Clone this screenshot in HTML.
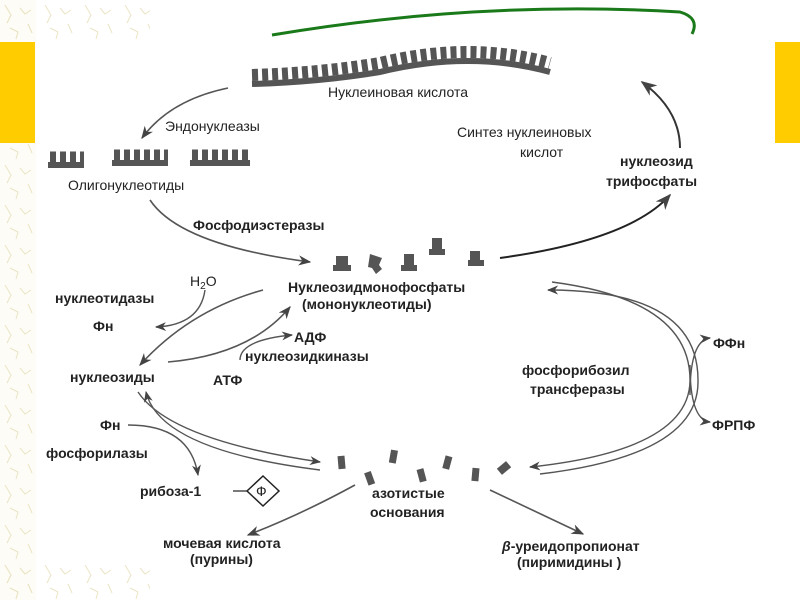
<!DOCTYPE html>
<html><head><meta charset="utf-8"><style>
body{margin:0;width:800px;height:600px;overflow:hidden;background:#fff}
text{font-family:"Liberation Sans",sans-serif;font-size:14px;fill:#222}
</style></head><body>
<svg width="800" height="600" viewBox="0 0 800 600">
<defs>
<marker id="a" viewBox="0 0 10 10" refX="9" refY="5" markerWidth="8" markerHeight="8" orient="auto"><path d="M0,1 L10,5 L0,9 L3,5z" fill="#444"/></marker>
<pattern id="bg" width="40" height="40" patternUnits="userSpaceOnUse"><path d="M5,5 l6,10 l-4,8 M20,8 l5,6 l6,-4 M10,28 l8,4 l-2,7 M28,24 l4,9" stroke="#ebe4c4" stroke-width="1" fill="none"/></pattern>
</defs>
<rect x="0" y="0" width="36" height="600" fill="#fdfcf6"/>
<rect x="0" y="0" width="36" height="600" fill="url(#bg)"/>
<rect x="0" y="0" width="150" height="42" fill="url(#bg)"/>
<rect x="0" y="560" width="150" height="40" fill="url(#bg)"/>
<rect x="0" y="42" width="35" height="101" fill="#ffcc00"/>
<rect x="775" y="42" width="25" height="101" fill="#ffcc00"/>
<path d="M272,35 Q480,0 680,12 Q700,18 692,34" stroke="#1a7a1a" stroke-width="3" fill="none"/>
<!-- nucleic acid -->
<path d="M252,84 Q320,82 380,72 Q470,50 550,72" stroke="#555" stroke-width="6" fill="none"/>
<path d="M252,75 Q320,73 380,63 Q470,41 550,63" stroke="#555" stroke-width="12" fill="none" stroke-dasharray="6 4"/>
<text x="328" y="97">Нуклеиновая кислота</text>
<!-- oligos -->
<g fill="#555">
<rect x="48" y="162" width="36" height="6"/><rect x="112" y="160" width="56" height="6"/><rect x="190" y="160" width="60" height="6"/>
</g>
<path d="M50,157 H84 M114,155 H168 M192,155 H250" stroke="#555" stroke-width="11" stroke-dasharray="6 4"/>
<text x="68" y="190">Олигонуклеотиды</text>
<path d="M228,88 Q170,100 142,138" stroke="#555" stroke-width="1.6" fill="none" marker-end="url(#a)"/>
<text x="165" y="131">Эндонуклеазы</text>
<text x="457" y="137">Синтез нуклеиновых</text>
<text x="520" y="157">кислот</text>
<text x="620" y="166" style="font-weight:bold">нуклеозид</text>
<text x="606" y="186" style="font-weight:bold">трифосфаты</text>
<path d="M680,148 Q680,110 642,82" stroke="#333" stroke-width="2" fill="none" marker-end="url(#a)"/>
<path d="M150,200 Q180,245 310,262" stroke="#555" stroke-width="1.6" fill="none" marker-end="url(#a)"/>
<text x="193" y="230" style="font-weight:bold">Фосфодиэстеразы</text>
<path d="M500,258 Q630,240 670,195" stroke="#222" stroke-width="2" fill="none" marker-end="url(#a)"/>
<!-- monomers -->
<g fill="#555">
<path d="M336,256 h12 v9 h3 v6 h-18 v-6 h3z"/>
<path d="M370,254 l12,4 l-3,7 l3,4 l-6,5 l-4,-6 l-4,-1z"/>
<path d="M404,254 h10 v11 h3 v6 h-16 v-6 h3z"/>
<path d="M432,238 h10 v11 h3 v6 h-16 v-6 h3z"/>
<path d="M470,251 h10 v9 h4 v6 h-16 v-6 h2z"/>
</g>
<text x="288" y="292" style="font-weight:bold">Нуклеозидмонофосфаты</text>
<text x="302" y="309" style="font-weight:bold">(мононуклеотиды)</text>
<text x="190" y="286">H<tspan font-size="10" dy="3">2</tspan><tspan dy="-3">O</tspan></text>
<text x="55" y="303" style="font-weight:bold">нуклеотидазы</text>
<text x="93" y="331" style="font-weight:bold">Фн</text>
<path d="M263,290 Q190,310 140,365" stroke="#555" stroke-width="1.6" fill="none" marker-end="url(#a)"/>
<path d="M205,290 Q200,325 156,327" stroke="#555" stroke-width="1.4" fill="none" marker-end="url(#a)"/>
<path d="M168,362 Q250,355 290,307" stroke="#555" stroke-width="1.6" fill="none" marker-end="url(#a)"/>
<path d="M240,360 Q240,340 292,335" stroke="#555" stroke-width="1.4" fill="none" marker-end="url(#a)"/>
<text x="294" y="342" style="font-weight:bold">АДФ</text>
<text x="245" y="361" style="font-weight:bold">нуклеозидкиназы</text>
<text x="70" y="382" style="font-weight:bold">нуклеозиды</text>
<text x="213" y="385" style="font-weight:bold">АТФ</text>
<!-- double arrows -->
<path d="M138,392 Q170,440 320,462" stroke="#555" stroke-width="1.4" fill="none" marker-end="url(#a)"/>
<path d="M320,470 Q160,450 146,392" stroke="#555" stroke-width="1.4" fill="none" marker-end="url(#a)"/>
<path d="M552,282 Q690,300 690,380 Q690,450 530,467" stroke="#555" stroke-width="1.4" fill="none" marker-end="url(#a)"/>
<path d="M540,474 Q700,455 698,380 Q698,290 548,290" stroke="#555" stroke-width="1.4" fill="none" marker-end="url(#a)"/>
<path d="M690,395 Q690,340 710,338" stroke="#555" stroke-width="1.4" fill="none" marker-end="url(#a)"/>
<path d="M690,365 Q690,420 710,422" stroke="#555" stroke-width="1.4" fill="none" marker-end="url(#a)"/>
<text x="713" y="348" style="font-weight:bold">ФФн</text>
<text x="712" y="430" style="font-weight:bold">ФРПФ</text>
<text x="522" y="375" style="font-weight:bold">фосфорибозил</text>
<text x="530" y="394" style="font-weight:bold">трансферазы</text>
<text x="100" y="430" style="font-weight:bold">Фн</text>
<text x="46" y="458" style="font-weight:bold">фосфорилазы</text>
<path d="M128,425 Q190,425 198,475" stroke="#555" stroke-width="1.4" fill="none" marker-end="url(#a)"/>
<text x="140" y="496" style="font-weight:bold">рибоза-1</text>
<path d="M233,491 h14" stroke="#222" stroke-width="1.2"/>
<path d="M263,476 l16,15 l-16,15 l-16,-15z" fill="#fff" stroke="#222" stroke-width="1.5"/>
<text x="256" y="496">Ф</text>
<!-- bases -->
<g fill="#555">
<rect x="338" y="456" width="7" height="13" transform="rotate(-5 341 462)"/>
<rect x="366" y="472" width="7" height="13" transform="rotate(-20 369 478)"/>
<rect x="390" y="450" width="7" height="13" transform="rotate(10 393 456)"/>
<rect x="418" y="469" width="7" height="13" transform="rotate(-15 421 475)"/>
<rect x="444" y="456" width="7" height="13" transform="rotate(15 447 462)"/>
<rect x="472" y="468" width="7" height="13" transform="rotate(5 475 474)"/>
<rect x="500" y="462" width="8" height="12" transform="rotate(50 504 468)"/>
</g>
<text x="372" y="498" style="font-weight:bold">азотистые</text>
<text x="370" y="517" style="font-weight:bold">основания</text>
<path d="M355,485 Q300,515 248,535" stroke="#555" stroke-width="1.6" fill="none" marker-end="url(#a)"/>
<path d="M490,490 L583,534" stroke="#555" stroke-width="1.6" fill="none" marker-end="url(#a)"/>
<text x="163" y="548" style="font-weight:bold">мочевая кислота</text>
<text x="190" y="564" style="font-weight:bold">(пурины)</text>
<text x="502" y="551" style="font-weight:bold"><tspan font-style="italic">β</tspan>-уреидопропионат</text>
<text x="517" y="567" style="font-weight:bold">(пиримидины )</text>
</svg>
</body></html>
